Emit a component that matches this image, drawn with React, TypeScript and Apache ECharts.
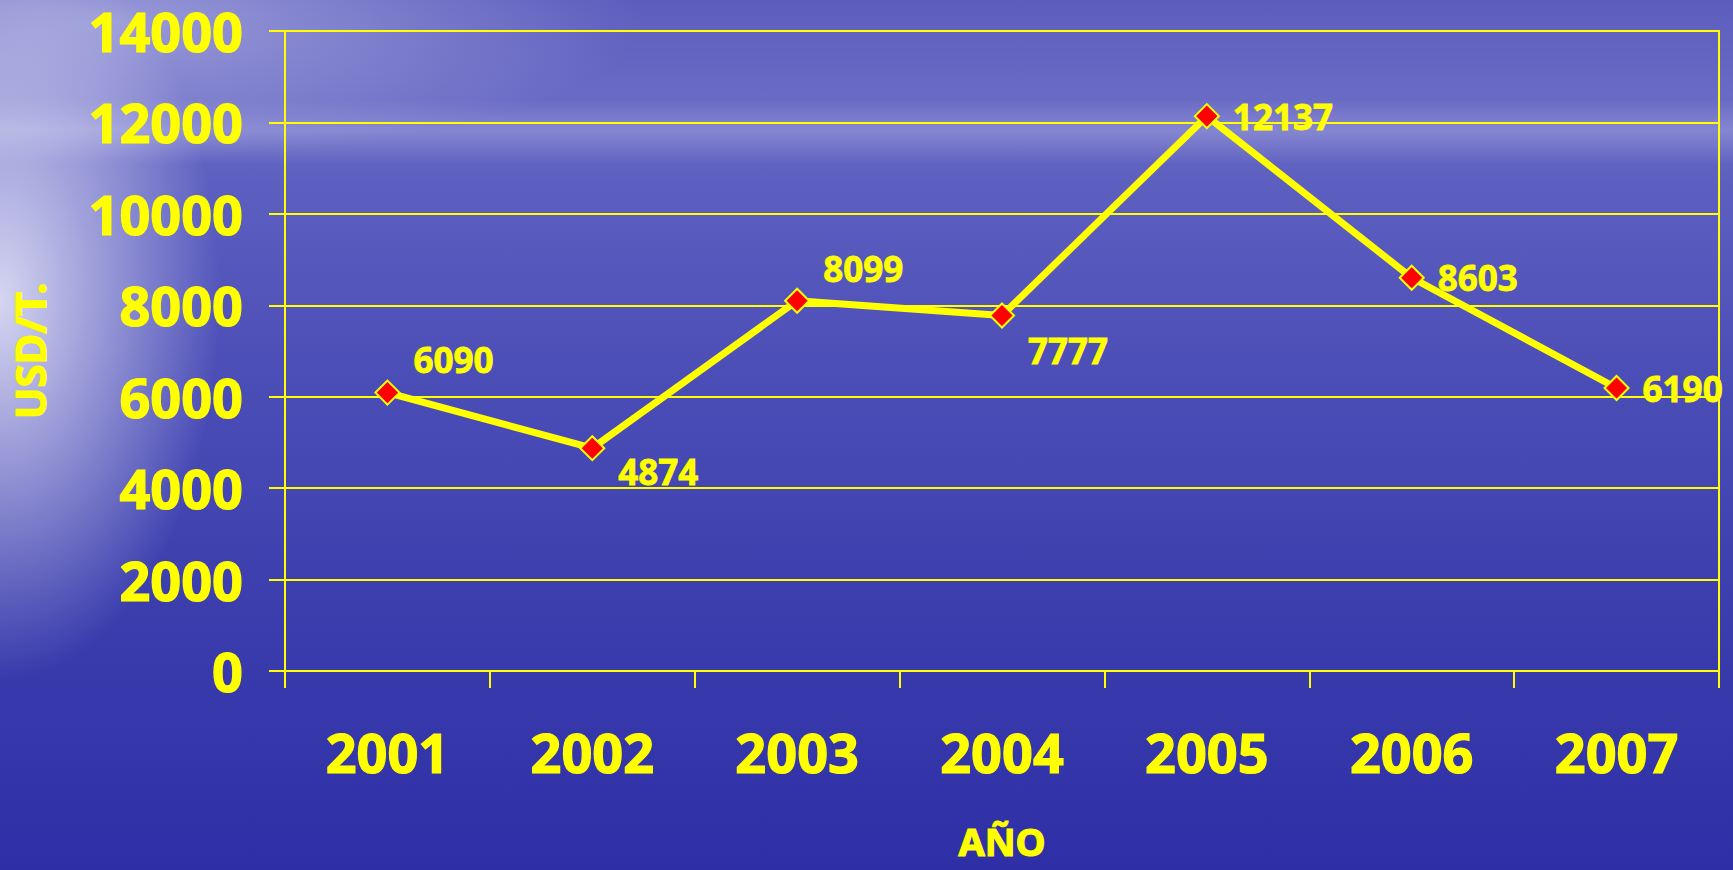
import React, { useEffect, useRef } from "react";
import * as echarts from "echarts";

const years = ["2001", "2002", "2003", "2004", "2005", "2006", "2007"];
const prices = [6090, 4874, 8099, 7777, 12137, 8603, 6190];
const labelShiftY = [-33, 23, -32, 35, 0, 0, 0];

const YELLOW = "#FFFF00";
const FONT = "'Noto Sans', 'DejaVu Sans', sans-serif";

export default function App() {
  const ref = useRef<HTMLDivElement>(null);

  useEffect(() => {
    document.body.style.margin = "0";
    const chart = echarts.init(ref.current!, null, { renderer: "svg" });
    const heavy = { textBorderColor: YELLOW, textBorderWidth: 1.2 };
    chart.setOption({
      animation: false,
      backgroundColor: "transparent",
      textStyle: { fontFamily: FONT },
      grid: {
        left: 285,
        right: 14,
        top: 31,
        bottom: 199,
        show: true,
        borderColor: YELLOW,
        borderWidth: 2,
        backgroundColor: "transparent",
        outerBoundsMode: "none",
      },
      xAxis: {
        type: "category",
        data: years,
        boundaryGap: true,
        name: "AÑO",
        nameLocation: "middle",
        nameGap: 150,
        nameTextStyle: {
          color: YELLOW,
          fontSize: 38,
          lineHeight: 40,
          fontWeight: "bold",
          fontFamily: FONT,
          ...heavy,
        },
        axisLine: { show: true, lineStyle: { color: YELLOW, width: 2 } },
        axisTick: { show: true, length: 17, lineStyle: { color: YELLOW, width: 2 } },
        axisLabel: {
          color: YELLOW,
          fontSize: 54,
          lineHeight: 54,
          fontWeight: "bold",
          fontFamily: FONT,
          margin: 54,
          ...heavy,
        },
        splitLine: { show: false },
      },
      yAxis: {
        type: "value",
        min: 0,
        max: 14000,
        interval: 2000,
        name: "USD/T.",
        nameLocation: "middle",
        nameGap: 235,
        nameRotate: 90,
        nameTextStyle: {
          color: YELLOW,
          fontSize: 42,
          lineHeight: 42,
          fontWeight: "bold",
          fontFamily: FONT,
          ...heavy,
        },
        axisLine: { show: true, lineStyle: { color: YELLOW, width: 2 } },
        axisTick: { show: true, length: 16, lineStyle: { color: YELLOW, width: 2 } },
        axisLabel: {
          color: YELLOW,
          fontSize: 54,
          lineHeight: 44,
          fontWeight: "bold",
          fontFamily: FONT,
          margin: 42,
          formatter: (v: number) => String(v),
          ...heavy,
        },
        splitLine: { show: true, lineStyle: { color: YELLOW, width: 2 } },
      },
      series: [
        {
          type: "line",
          data: prices.map((v, i) => ({
            value: v,
            label: { offset: [0, labelShiftY[i]] },
          })),
          symbol: "diamond",
          symbolSize: 24,
          lineStyle: { color: YELLOW, width: 7 },
          itemStyle: { color: "#FF0000", borderColor: YELLOW, borderWidth: 2 },
          label: {
            show: true,
            position: "right",
            distance: 13,
            color: YELLOW,
            fontSize: 35,
            fontWeight: "bold",
            fontFamily: FONT,
            textBorderColor: YELLOW,
            textBorderWidth: 0.8,
          },
          z: 5,
        },
      ],
    });
    return () => chart.dispose();
  }, []);

  const bg = [
    "radial-gradient(ellipse 220px 380px at 0px 300px, rgba(236,236,250,0.85), rgba(236,236,250,0) 100%)",
    "radial-gradient(ellipse 520px 140px at 120px 20px, rgba(200,200,236,0.55), rgba(200,200,236,0) 100%)",
    "linear-gradient(to bottom, rgba(172,172,226,0) 100px, rgba(172,172,226,0.45) 130px, rgba(172,172,226,0) 165px)",
    "linear-gradient(to bottom, #5c5dbe 0px, #6a6bc5 100px, #5b5dbf 200px, #4a4cb6 400px, #3c3eae 600px, #2e2fa6 870px)",
  ].join(", ");

  return (
    <div
      ref={ref}
      style={{
        position: "absolute",
        left: 0,
        top: 0,
        width: 1733,
        height: 870,
        background: bg,
      }}
    />
  );
}
